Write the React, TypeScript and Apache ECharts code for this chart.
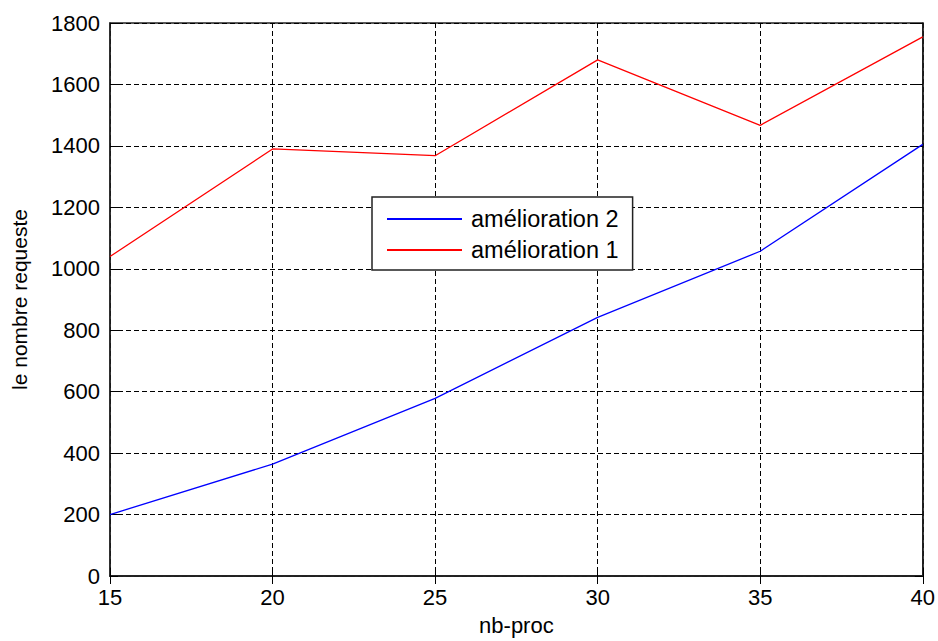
import React, { useEffect, useRef } from "react";
import * as echarts from "echarts";

const nbProc = [15, 20, 25, 30, 35, 40];
const amelioration1 = [1040, 1390, 1368, 1680, 1467, 1755];
const amelioration2 = [200, 364, 578, 842, 1057, 1405];
const seriesNames = ["amélioration 2", "amélioration 1"];
const xTitle = "nb-proc";
const yTitle = "le nombre requeste";

const FONT = "Liberation Sans, Arial, sans-serif";

export default function App() {
  const ref = useRef<HTMLDivElement>(null);
  useEffect(() => {
    if (!ref.current) return;
    const chart = echarts.init(ref.current, null, { renderer: "svg" });
    const gridLine = { show: true, lineStyle: { color: "#000", type: [5, 3], width: 1 } };
    const tick = { show: true, inside: true, length: 8, lineStyle: { color: "#000" } };
    const label = { color: "#000", fontFamily: FONT, fontSize: 22 };
    const axisLine = { show: true, lineStyle: { color: "#222", width: 1.5 } };
    chart.setOption({
      animation: false,
      backgroundColor: "#fff",
      grid: {
        left: 110,
        right: 14,
        top: 23,
        bottom: 59,
        show: true,
        borderColor: "#222",
        borderWidth: 1.5,
        backgroundColor: "#fff",
      },
      legend: {
        data: seriesNames,
        orient: "vertical",
        left: 372,
        top: 197,
        padding: [10, 14, 8, 15],
        itemGap: 7,
        itemWidth: 75,
        itemHeight: 2,
        icon: "rect",
        backgroundColor: "#fff",
        borderColor: "#222",
        borderWidth: 1.5,
        borderRadius: 0,
        textStyle: { color: "#000", fontFamily: FONT, fontSize: 23.5, padding: [0, 0, 0, 4] },
      },
      xAxis: [
        {
          type: "value",
          min: 15,
          max: 40,
          interval: 5,
          name: xTitle,
          nameLocation: "middle",
          nameGap: 38,
          nameTextStyle: { color: "#000", fontFamily: FONT, fontSize: 22 },
          axisLine,
          axisTick: tick,
          axisLabel: { ...label, margin: 10 },
          splitLine: gridLine,
        },
        {
          type: "value",
          position: "top",
          min: 15,
          max: 40,
          interval: 5,
          axisLine,
          axisTick: tick,
          axisLabel: { show: false },
          splitLine: { show: false },
        },
      ],
      yAxis: [
        {
          type: "value",
          min: 0,
          max: 1800,
          interval: 200,
          name: yTitle,
          nameLocation: "middle",
          nameGap: 80,
          nameRotate: 90,
          nameTextStyle: { color: "#000", fontFamily: FONT, fontSize: 21 },
          axisLine,
          axisTick: tick,
          axisLabel: { ...label, margin: 10, formatter: (v: number) => String(v) },
          splitLine: gridLine,
        },
        {
          type: "value",
          position: "right",
          min: 0,
          max: 1800,
          interval: 200,
          axisLine,
          axisTick: tick,
          axisLabel: { show: false },
          splitLine: { show: false },
        },
      ],
      series: [
        {
          name: seriesNames[0],
          type: "line",
          data: nbProc.map((x, i) => [x, amelioration2[i]]),
          showSymbol: false,
          symbol: "none",
          lineStyle: { color: "#0000ff", width: 1.3 },
          itemStyle: { color: "#0000ff" },
        },
        {
          name: seriesNames[1],
          type: "line",
          data: nbProc.map((x, i) => [x, amelioration1[i]]),
          showSymbol: false,
          symbol: "none",
          lineStyle: { color: "#ff0000", width: 1.3 },
          itemStyle: { color: "#ff0000" },
        },
      ],
    });
    return () => chart.dispose();
  }, []);
  return <div ref={ref} style={{ width: 938, height: 641, position: "fixed", left: 0, top: 0 }} />;
}
